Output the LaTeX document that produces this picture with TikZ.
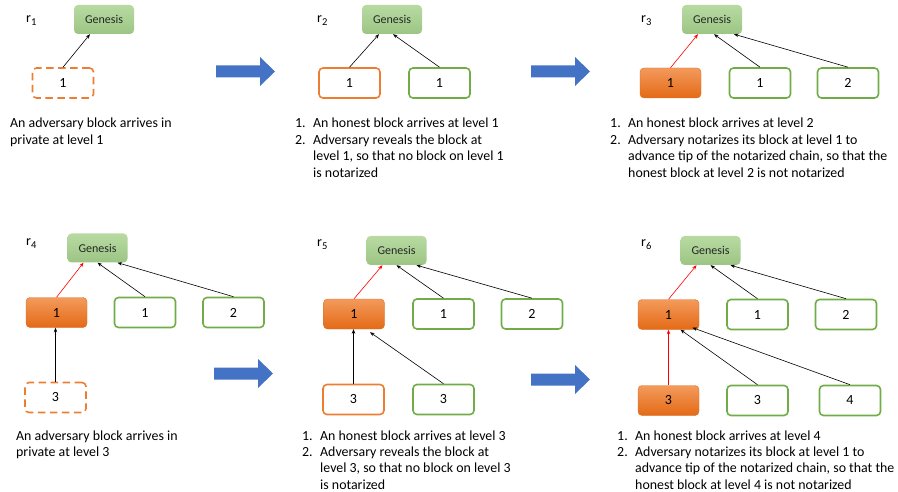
\documentclass[tikz,border=0pt]{standalone}
\usepackage{fontspec}
\setmainfont{Carlito}
\usetikzlibrary{arrows.meta,calc}
\definecolor{hgreen}{HTML}{70AD47}
\definecolor{aorange}{HTML}{ED7D31}
\definecolor{genTop}{HTML}{B8DAA2}
\definecolor{genBot}{HTML}{9CC584}
\definecolor{orTop}{HTML}{F39A5C}
\definecolor{orBot}{HTML}{E46A16}
\definecolor{bblue}{HTML}{4472C4}
\begin{document}
\begin{tikzpicture}[x=1pt,y=-1pt,
  blk/.style={rounded corners=4pt, minimum width=61pt, minimum height=30pt, inner sep=0pt, font=\fontsize{14}{16}\selectfont},
  hon/.style={blk, draw=hgreen, line width=1.6pt, fill=white},
  advo/.style={blk, draw=aorange, line width=1.6pt, fill=white},
  advd/.style={advo, dash pattern=on 7.5pt off 4.5pt},
  advf/.style={blk, top color=orTop, bottom color=orBot, draw=aorange!90!black, line width=0.4pt},
  gen/.style={rounded corners=4pt, minimum width=60pt, minimum height=29pt, inner sep=0pt, top color=genTop, bottom color=genBot, font=\fontsize{12}{14}\selectfont, text=black!85},
  lnk/.style={-{Stealth[length=4.5pt,width=3.5pt]}, line width=0.6pt},
  rlnk/.style={lnk, draw=red},
  desc/.style={anchor=base west, inner sep=0pt, font=\fontsize{13.9}{16.4}\selectfont},
  rlab/.style={anchor=base west, inner sep=0pt, font=\fontsize{14}{16}\selectfont},
  bigarr/.pic={\fill[bblue] (0,-6) -- (44,-6) -- (44,-14.5) -- (59,0) -- (44,14.5) -- (44,6) -- (0,6) -- cycle;}
]
\useasboundingbox (0,0) rectangle (898,492);
\newcommand{\rl}[1]{r\raisebox{-3pt}{\fontsize{10.5}{10.5}\selectfont #1}}
\newcommand{\nm}[1]{\makebox[18pt][l]{#1}}

% ---------------- r1
\node[rlab] (r1) at (26,23) {\rl{1}};
\node[gen] (g1) at (104,19.5) {Genesis};
\node[advd] (a1) at (63,83) {1};
\draw[lnk] (a1.north) -- ([xshift=-14pt]g1.south);
\node[desc] (t1) at (10,128) {\begin{tabular}[t]{@{}l@{}}An adversary block arrives in\\ private at level 1\end{tabular}};
\pic at (216,71.5) {bigarr};

% ---------------- r2
\node[rlab] (r2) at (317,23) {\rl{2}};
\node[gen] (g2) at (392,19.5) {Genesis};
\node[advo] (a2) at (349.5,83) {1};
\node[hon] (h2) at (439.5,83) {1};
\draw[lnk] (a2.north) -- ([xshift=-13pt]g2.south);
\draw[lnk] (h2.north) -- ([xshift=1pt]g2.south);
\node[desc] (t2) at (295,128) {\begin{tabular}[t]{@{}l@{}l@{}}\nm{1.}&An honest block arrives at level 1\\ \nm{2.}&Adversary reveals the block at\\ &level 1, so that no block on level 1\\ &is notarized\end{tabular}};
\pic at (531,71.5) {bigarr};

% ---------------- r3
\node[rlab] (r3) at (641,23) {\rl{3}};
\node[gen] (g3) at (712,19.5) {Genesis};
\node[advf] (a3) at (670.5,83) {1};
\node[hon] (h3a) at (760,83) {1};
\node[hon] (h3b) at (848,83) {2};
\draw[rlnk] (a3.north) -- ([xshift=-14pt]g3.south);
\draw[lnk] (h3a.north) -- ([xshift=2pt]g3.south);
\draw[lnk] (h3b.north) -- ([xshift=22pt]g3.south);
\node[desc] (t3) at (610,128) {\begin{tabular}[t]{@{}l@{}l@{}}\nm{1.}&An honest block arrives at level 2\\ \nm{2.}&Adversary notarizes its block at level 1 to\\ &advance tip of the notarized chain, so that the\\ &honest block at level 2 is not notarized\end{tabular}};

% ---------------- r4
\node[rlab] (r4) at (26,246) {\rl{4}};
\node[gen] (g4) at (97.5,248) {Genesis};
\node[advf] (a4) at (56.5,312.5) {1};
\node[hon] (h4a) at (145,312.5) {1};
\node[hon] (h4b) at (233.5,312.5) {2};
\node[advd] (d4) at (55.5,397.5) {3};
\draw[rlnk] (a4.north) -- ([xshift=-14pt]g4.south);
\draw[lnk] (h4a.north) -- (g4.south);
\draw[lnk] (h4b.north) -- ([xshift=20pt]g4.south);
\draw[lnk] (d4.north) -- (d4.north |- a4.south);
\node[desc] (t4) at (16,440) {\begin{tabular}[t]{@{}l@{}}An adversary block arrives in\\ private at level 3\end{tabular}};
\pic at (214,373.5) {bigarr};

% ---------------- r5
\node[rlab] (r5) at (317,247) {\rl{5}};
\node[gen] (g5) at (396.5,250.5) {Genesis};
\node[advf] (a5) at (354,314) {1};
\node[hon] (h5a) at (443.5,314) {1};
\node[hon] (h5b) at (532,314) {2};
\node[advo] (o5) at (353.5,399.5) {3};
\node[hon] (h5c) at (443.5,399.5) {3};
\draw[rlnk] (a5.north) -- ([xshift=-14pt]g5.south);
\draw[lnk] (h5a.north) -- (g5.south);
\draw[lnk] (h5b.north) -- ([xshift=20pt]g5.south);
\draw[lnk] (o5.north) -- (o5.north |- a5.south);
\draw[lnk] (h5c.north) -- ([xshift=16pt,yshift=-3pt]a5.south);
\node[desc] (t5) at (302,440) {\begin{tabular}[t]{@{}l@{}l@{}}\nm{1.}&An honest block arrives at level 3\\ \nm{2.}&Adversary reveals the block at\\ &level 3, so that no block on level 3\\ &is notarized\end{tabular}};
\pic at (531,379.5) {bigarr};

% ---------------- r6
\node[rlab] (r6) at (641,247) {\rl{6}};
\node[gen] (g6) at (710.5,250.5) {Genesis};
\node[advf] (a6) at (668.5,314.5) {1};
\node[hon] (h6a) at (757.5,314.5) {1};
\node[hon] (h6b) at (846,314.5) {2};
\node[advf] (f6) at (668.5,400.5) {3};
\node[hon] (h6c) at (757.5,400.5) {3};
\node[hon] (h6d) at (850,400.5) {4};
\draw[rlnk] (a6.north) -- ([xshift=-14pt]g6.south);
\draw[lnk] (h6a.north) -- (g6.south);
\draw[lnk] (h6b.north) -- ([xshift=20pt]g6.south);
\draw[rlnk] (f6.north) -- (f6.north |- a6.south);
\draw[lnk] (h6c.north) -- ([xshift=12pt]a6.south);
\draw[lnk] (h6d.north) -- ([xshift=24pt,yshift=2pt]a6.south);
\node[desc] (t6) at (617,440) {\begin{tabular}[t]{@{}l@{}l@{}}\nm{1.}&An honest block arrives at level 4\\ \nm{2.}&Adversary notarizes its block at level 1 to\\ &advance tip of the notarized chain, so that the\\ &honest block at level 4 is not notarized\end{tabular}};
\end{tikzpicture}
\end{document}
